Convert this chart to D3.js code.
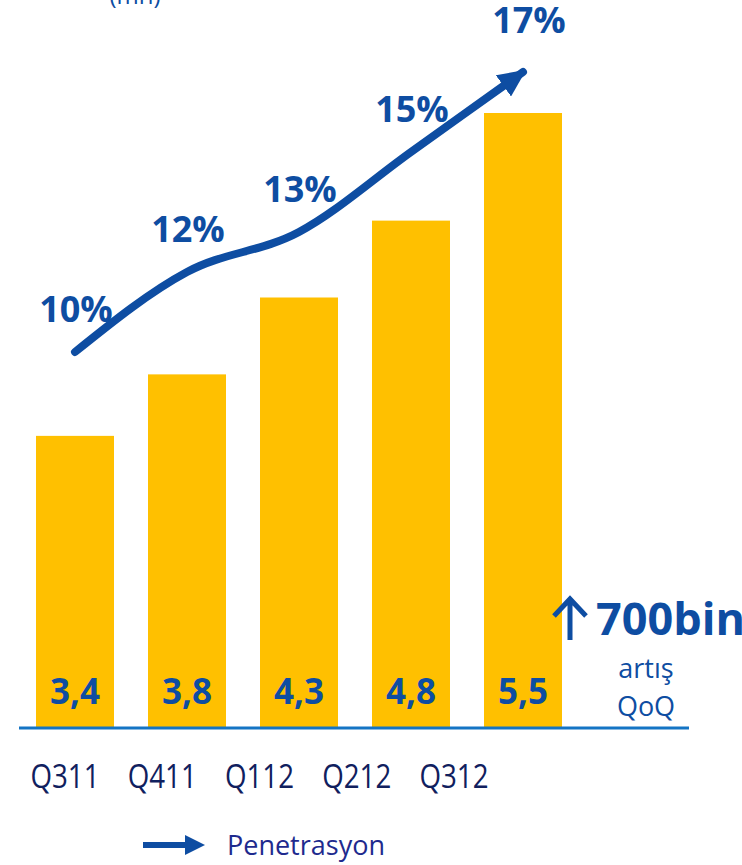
<!DOCTYPE html>
<html>
<head>
<meta charset="utf-8">
<script src="https://cdn.jsdelivr.net/npm/d3@7"></script>
<style>
  html, body { margin: 0; padding: 0; background: #fff; }
  svg { display: block; font-family: "Open Sans", "Noto Sans", sans-serif; }
</style>
</head>
<body>
<svg id="chart" width="742" height="865"></svg>
<script>
const categories = ["Q311", "Q411", "Q112", "Q212", "Q312"];
const subscribers = [3.4, 3.8, 4.3, 4.8, 5.5];
const valueLabels = ["3,4", "3,8", "4,3", "4,8", "5,5"];
const penetration = [10, 12, 13, 15, 17];
const penetrationLabels = ["10%", "12%", "13%", "15%", "17%"];
const unitLabel = "(mn)";
const growthLabel = "700bin";
const growthSub = ["artış", "QoQ"];
const legendLabel = "Penetrasyon";

const BLUE = "#0E4DA2";
const YELLOW = "#FFC000";
const NAVY = "#10205E";

const svg = d3.select("#chart");

const x = d3.scaleBand().domain(categories).range([19, 579])
  .paddingInner(0.3036).paddingOuter(0.1518);
const y = d3.scaleLinear().domain([1.5, 5.5]).range([728, 113]);
const yP = d3.scaleLinear().domain([10, 17]).range([352, 72]);
const xLab = d3.scalePoint().domain(categories).range([65, 454]);

// unit label (cut off at top)
svg.append("text").attr("x", 135).attr("y", 4).attr("text-anchor", "middle")
  .attr("font-size", 24).attr("fill", BLUE).text(unitLabel);

// bars
svg.selectAll("rect.bar").data(subscribers).join("rect")
  .attr("class", "bar")
  .attr("x", (d, i) => x(categories[i]))
  .attr("width", x.bandwidth())
  .attr("y", d => y(d))
  .attr("height", d => y(1.5) - y(d))
  .attr("fill", YELLOW);

// bar value labels
svg.selectAll("text.val").data(valueLabels).join("text")
  .attr("class", "val")
  .attr("x", (d, i) => x(categories[i]) + x.bandwidth() / 2)
  .attr("y", 704)
  .attr("text-anchor", "middle")
  .attr("font-size", 35).attr("font-weight", 700)
  .attr("fill", BLUE)
  .text(d => d);

// baseline
svg.append("line").attr("x1", 19).attr("x2", 689).attr("y1", 728).attr("y2", 728)
  .attr("stroke", "#1474C4").attr("stroke-width", 3);

// penetration trend line with arrow
const defs = svg.append("defs");
defs.append("marker").attr("id", "head")
  .attr("markerUnits", "userSpaceOnUse")
  .attr("viewBox", "0 0 28 26").attr("refX", 24).attr("refY", 13)
  .attr("markerWidth", 28).attr("markerHeight", 26)
  .attr("orient", "auto")
  .append("path").attr("d", "M0,0 L28,13 L0,26 Z").attr("fill", BLUE);

const pts = penetration.map((v, i) => [x(categories[i]) + x.bandwidth() / 2, yP(v)]);
const lineGen = d3.line().curve(d3.curveMonotoneX);
svg.append("path").attr("d", lineGen(pts))
  .attr("fill", "none").attr("stroke", BLUE).attr("stroke-width", 8)
  .attr("stroke-linecap", "round")
  .attr("marker-end", "url(#head)");

// penetration labels
svg.selectAll("text.pen").data(penetrationLabels).join("text")
  .attr("class", "pen")
  .attr("x", (d, i) => x(categories[i]) + x.bandwidth() / 2 + (i === penetration.length - 1 ? 6 : 1))
  .attr("y", (d, i) => yP(penetration[i]) - (i === penetration.length - 1 ? 39 : 30))
  .attr("text-anchor", "middle")
  .attr("font-size", 36).attr("font-weight", 700)
  .attr("fill", BLUE)
  .text(d => d);

// category labels
svg.selectAll("text.cat").data(categories).join("text")
  .attr("class", "cat")
  .attr("x", d => xLab(d) - 34.5)
  .attr("y", 788)
  .attr("font-size", 32)
  .attr("textLength", 69)
  .attr("lengthAdjust", "spacingAndGlyphs")
  .attr("fill", NAVY)
  .text(d => d);

// growth annotation
const g = svg.append("g");
g.append("path").attr("d", "M570,640 L570,600 M554,616 L570,599 L586,616")
  .attr("fill", "none").attr("stroke", BLUE).attr("stroke-width", 5)
  .attr("stroke-linejoin", "miter");
g.append("text").attr("x", 596).attr("y", 635)
  .attr("font-size", 45).attr("font-weight", 700).attr("fill", BLUE)
  .text(growthLabel);
g.selectAll("text.sub").data(growthSub).join("text")
  .attr("class", "sub")
  .attr("x", 646).attr("y", (d, i) => 678 + i * 38)
  .attr("text-anchor", "middle")
  .attr("font-size", 27).attr("fill", BLUE)
  .text(d => d);

// legend
const lg = svg.append("g");
lg.append("line").attr("x1", 143).attr("x2", 188).attr("y1", 845).attr("y2", 845)
  .attr("stroke", BLUE).attr("stroke-width", 6);
lg.append("path").attr("d", "M185,835 L205,845 L185,855 Z").attr("fill", BLUE);
lg.append("text").attr("x", 227).attr("y", 855)
  .attr("font-size", 27).attr("fill", "#1E2A8E")
  .text(legendLabel);
</script>
</body>
</html>
